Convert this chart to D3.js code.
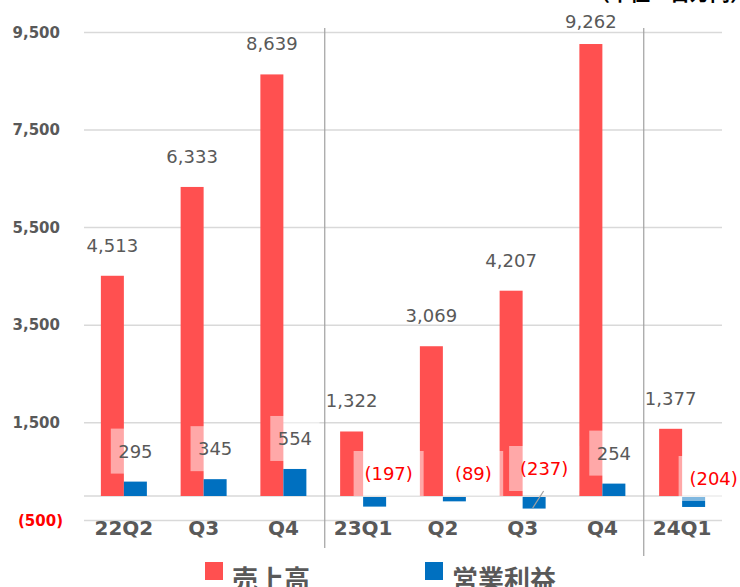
<!DOCTYPE html>
<html>
<head>
<meta charset="utf-8">
<script src="https://cdn.jsdelivr.net/npm/d3@7"></script>
<style>
  body { margin: 0; background: #fff; }
  svg { display: block; }
</style>
</head>
<body>
<div id="container"></div>
<script>
// data
const quarters = ['22Q2', 'Q3', 'Q4', '23Q1', 'Q2', 'Q3 ', 'Q4 ', '24Q1']
const sales = [4513, 6333, 8639, 1322, 3069, 4207, 9262, 1377]
const opProfit = [295, 345, 554, -197, -89, -237, 254, -204]
const tickValues = [-500, 1500, 3500, 5500, 7500, 9500]
const seriesNames = ['売上高', '営業利益']

// hand-placed label nudges (dx, dy) for the operating profit labels
const opLabelNudge = [[0, 0], [0, 0], [0, 0], [14, -16], [19, -16], [10, -21], [0, 0], [20, -11]]

const width = 740
const height = 587
const marginLeft = 84
const marginRight = 18
const red = '#FF5050'
const blue = '#0070C0'
const grey = '#595959'
const fmt = d3.format(',')
const fmtNeg = v => v < 0 ? `(${fmt(-v)})` : fmt(v)

const x = d3.scaleBand()
    .domain(quarters)
    .range([marginLeft, width - marginRight])
    .padding(0)

const y = d3.scaleLinear()
    .domain([-500, 9500])
    .range([520.4, 32.4])

const barW = 23

const svg = d3.create('svg')
    .attr('width', width)
    .attr('height', height)

// gridlines
svg.append('g')
  .selectAll('line')
  .data([0, ...tickValues])
  .join('line')
    .attr('x1', marginLeft)
    .attr('x2', width - marginRight)
    .attr('y1', d => y(d))
    .attr('y2', d => y(d))
    .attr('stroke', '#D9D9D9')
    .attr('stroke-width', 1.5)

// y tick labels
svg.append('g')
  .selectAll('text')
  .data(tickValues)
  .join('text')
    .attr('x', d => d < 0 ? 63 : 60)
    .attr('y', d => y(d))
    .attr('dy', '0.35em')
    .attr('text-anchor', 'end')
    .style('font-family', 'DejaVu Sans, Verdana, sans-serif')
    .style('font-weight', 'bold')
    .style('font-size', '15px')
    .attr('fill', d => d < 0 ? '#FF0000' : grey)
    .text(fmtNeg)

// separators between years
const sepAfter = [2, 6]
svg.append('g')
  .selectAll('line')
  .data(sepAfter)
  .join('line')
    .attr('x1', d => x(quarters[d]) + x.bandwidth() + 1.5)
    .attr('x2', d => x(quarters[d]) + x.bandwidth() + 1.5)
    .attr('y1', 28)
    .attr('y2', (d, i) => i === 0 ? 548 : 556)
    .attr('stroke', '#A0A0A0')
    .attr('stroke-width', 1.2)

const mid = d => x(d) + x.bandwidth() / 2

// sales bars
svg.append('g')
  .selectAll('rect')
  .data(quarters)
  .join('rect')
    .attr('x', d => mid(d) - barW)
    .attr('y', (d, i) => y(sales[i]))
    .attr('width', barW)
    .attr('height', (d, i) => y(0) - y(sales[i]))
    .attr('fill', red)

// operating profit bars
svg.append('g')
  .selectAll('rect')
  .data(quarters)
  .join('rect')
    .attr('x', d => mid(d))
    .attr('y', (d, i) => opProfit[i] >= 0 ? y(opProfit[i]) : y(0) + 1)
    .attr('width', barW)
    .attr('height', (d, i) => Math.abs(y(0) - y(opProfit[i])))
    .attr('fill', blue)

// sales labels
svg.append('g')
  .selectAll('text')
  .data(quarters)
  .join('text')
    .attr('x', d => mid(d) - barW / 2)
    .attr('y', (d, i) => Math.max(y(sales[i]) - 24, 28))
    .attr('text-anchor', 'middle')
    .style('font-family', 'DejaVu Sans, Verdana, sans-serif')
    .style('font-size', '18px')
    .attr('fill', grey)
    .text((d, i) => fmt(sales[i]))

// operating profit labels with half-transparent white boxes
const opGroup = svg.append('g')
quarters.forEach((q, i) => {
  const v = opProfit[i]
  const [dx, dy] = opLabelNudge[i]
  const cx = mid(q) + barW / 2 + dx
  const base = v >= 0 ? y(v) - 24 : y(0) + dy
  const box = opGroup.append('rect')
  const t = opGroup.append('text')
      .attr('x', cx)
      .attr('y', base)
      .attr('text-anchor', 'middle')
      .style('font-family', 'DejaVu Sans, Verdana, sans-serif')
      .style('font-size', '18px')
      .attr('fill', v < 0 ? '#FF0000' : grey)
      .text(fmtNeg(v))
  const w = fmtNeg(v).length * 10.4
  box.attr('x', cx - w / 2 - 9)
      .attr('y', base - 29)
      .attr('width', w + 18)
      .attr('height', 45)
      .attr('fill', '#fff')
      .attr('opacity', 0.5)
  t.raise()
})

// leader line for 23Q3 label
const q3 = quarters[5]
svg.append('line')
    .attr('x1', mid(q3) + 10)
    .attr('y1', y(opProfit[5]) + 0.5)
    .attr('x2', mid(q3) + 21)
    .attr('y2', y(0) - 5)
    .attr('stroke', '#A0A0A0')
    .attr('stroke-width', 1.2)

// category labels
svg.append('g')
  .selectAll('text')
  .data(quarters)
  .join('text')
    .attr('x', d => mid(d))
    .attr('y', 535)
    .attr('text-anchor', 'middle')
    .style('font-family', 'DejaVu Sans, Verdana, sans-serif')
    .style('font-weight', 'bold')
    .style('font-size', '20px')
    .attr('fill', grey)
    .text(d => d.trim())

// legend
const legendX = [205, 425]
const legend = svg.append('g')
legend.selectAll('rect')
  .data(seriesNames)
  .join('rect')
    .attr('x', (d, i) => legendX[i])
    .attr('y', 562)
    .attr('width', 18)
    .attr('height', 18)
    .attr('fill', (d, i) => i === 0 ? red : blue)
legend.selectAll('text')
  .data(seriesNames)
  .join('text')
    .attr('x', (d, i) => legendX[i] + 27)
    .attr('y', 589)
    .style('font-family', '"Noto Sans CJK JP", sans-serif')
    .style('font-weight', 'bold')
    .style('font-size', '26px')
    .attr('fill', grey)
    .text(d => d)

// unit note, cut off at the top edge
svg.append('text')
    .attr('x', 590)
    .attr('y', 0.5)
    .style('font-family', '"Noto Sans CJK JP", sans-serif')
    .style('font-weight', 'bold')
    .style('font-size', '20px')
    .attr('fill', '#000')
    .text('（単位：百万円）')

d3.select('#container').append(() => svg.node())
</script>
</body>
</html>
